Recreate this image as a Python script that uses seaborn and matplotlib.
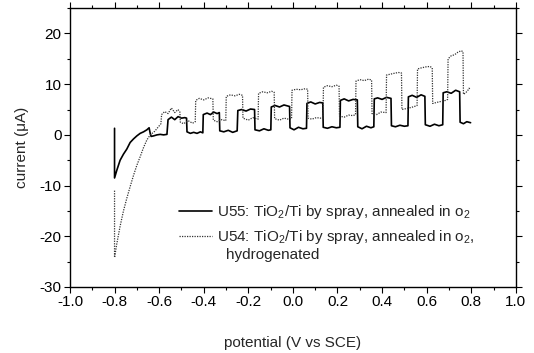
import matplotlib
matplotlib.use("Agg")
import matplotlib.pyplot as plt
import seaborn as sns
import pandas as pd
from matplotlib.ticker import MultipleLocator, FormatStrFormatter

# U55: TiO2/Ti by spray, annealed in O2 (solid)
u55_x = [-0.800, -0.800, -0.790, -0.775, -0.760, -0.745, -0.730, -0.715, -0.700, -0.685, -0.670, -0.655, -0.645,
         -0.640, -0.636, -0.625, -0.610, -0.595, -0.580, -0.565,
         -0.560, -0.545, -0.530, -0.515, -0.500, -0.485, -0.477,
         -0.475, -0.460, -0.445, -0.430, -0.415, -0.404,
         -0.402, -0.385, -0.370, -0.355, -0.340, -0.330,
         -0.328, -0.310, -0.290, -0.270, -0.250,
         -0.247, -0.230, -0.210, -0.190, -0.172,
         -0.170, -0.150, -0.130, -0.110, -0.099,
         -0.097, -0.080, -0.060, -0.040, -0.015,
         -0.013, 0.005, 0.025, 0.045, 0.061,
         0.063, 0.080, 0.100, 0.120, 0.134,
         0.136, 0.155, 0.175, 0.195, 0.211,
         0.213, 0.230, 0.250, 0.270, 0.289,
         0.291, 0.310, 0.330, 0.350, 0.363,
         0.365, 0.380, 0.400, 0.420, 0.440,
         0.442, 0.460, 0.480, 0.500, 0.516,
         0.518, 0.535, 0.555, 0.575, 0.592,
         0.594, 0.615, 0.635, 0.655, 0.672,
         0.674, 0.690, 0.710, 0.730, 0.748,
         0.750, 0.765, 0.780, 0.797]
u55_y = [1.3, -8.5, -7.0, -5.0, -3.8, -2.8, -1.5, -0.8, -0.2, 0.3, 0.6, 1.0, 1.4,
         0.3, -0.3, -0.2, 0.0, 0.1, 0.0, 0.1,
         3.0, 3.5, 3.0, 3.6, 3.3, 3.4, 3.3,
         0.6, 0.3, 0.5, 0.3, 0.6, 0.4,
         4.0, 4.3, 4.0, 4.5, 4.2, 4.4,
         0.8, 0.6, 0.9, 0.5, 0.8,
         4.8, 5.0, 4.7, 5.1, 5.0,
         1.0, 0.8, 1.2, 0.9, 1.0,
         5.5, 5.8, 5.5, 5.9, 5.6,
         1.4, 1.0, 1.5, 1.2, 1.3,
         6.2, 6.5, 6.1, 6.4, 6.3,
         1.5, 1.3, 1.6, 1.4, 1.5,
         6.8, 7.1, 6.7, 7.0, 6.9,
         1.6, 1.2, 1.7, 1.4, 1.6,
         7.1, 7.3, 7.0, 7.4, 7.2,
         1.8, 1.6, 1.9, 1.7, 1.8,
         7.5, 7.8, 7.4, 7.9, 7.6,
         2.0, 1.7, 2.1, 1.8, 2.0,
         8.3, 8.5, 8.2, 8.8, 8.5,
         2.5, 2.2, 2.6, 2.4]

# U54: TiO2/Ti by spray, annealed in O2, hydrogenated (dotted)
u54_x = [-0.800, -0.800, -0.790, -0.775, -0.760, -0.745, -0.730, -0.715, -0.700, -0.685, -0.670, -0.655, -0.640,
         -0.620, -0.605, -0.592,
         -0.589, -0.575, -0.560, -0.545, -0.530, -0.515, -0.507,
         -0.505, -0.490, -0.470, -0.450, -0.438,
         -0.436, -0.420, -0.400, -0.380, -0.359,
         -0.357, -0.340, -0.320, -0.301,
         -0.299, -0.280, -0.260, -0.240, -0.226,
         -0.224, -0.200, -0.180, -0.156,
         -0.154, -0.135, -0.115, -0.095, -0.084,
         -0.082, -0.060, -0.040, -0.020, -0.006,
         -0.004, 0.015, 0.035, 0.055, 0.066,
         0.068, 0.085, 0.105, 0.125, 0.135,
         0.137, 0.155, 0.175, 0.195, 0.207,
         0.209, 0.230, 0.250, 0.270, 0.281,
         0.283, 0.300, 0.320, 0.340, 0.353,
         0.355, 0.375, 0.395, 0.418,
         0.420, 0.440, 0.460, 0.475, 0.487,
         0.489, 0.510, 0.530, 0.545, 0.557,
         0.559, 0.575, 0.595, 0.615, 0.625,
         0.627, 0.645, 0.665, 0.685, 0.694,
         0.696, 0.710, 0.725, 0.740, 0.755, 0.763,
         0.765, 0.775, 0.785, 0.790, 0.797]
u54_y = [-11.0, -24.2, -21.5, -18.0, -15.0, -12.5, -10.2, -8.0, -6.0, -4.3, -2.5, -1.0, 0.0,
         0.7, 1.5, 2.2,
         4.0, 4.6, 4.2, 5.3, 4.4, 5.0, 4.5,
         2.5, 2.2, 2.8, 2.3, 2.6,
         6.8, 7.2, 6.9, 7.3, 7.1,
         2.9, 2.6, 3.0, 2.8,
         7.6, 7.9, 7.7, 8.0, 7.8,
         3.3, 2.9, 3.4, 3.1,
         8.2, 8.5, 8.3, 8.6, 8.4,
         3.2, 2.9, 3.3, 3.1, 3.2,
         8.8, 9.0, 8.9, 9.1, 9.0,
         3.3, 3.1, 3.4, 3.3, 3.3,
         9.4, 9.7, 9.5, 9.8, 9.6,
         3.7, 3.5, 3.9, 3.8, 4.0,
         10.6, 10.9, 10.7, 11.0, 10.8,
         4.2, 4.0, 4.5, 4.4,
         11.8, 12.0, 12.2, 12.3, 12.2,
         5.0, 5.2, 5.4, 5.6, 5.8,
         13.0, 13.2, 13.4, 13.5, 13.2,
         6.2, 6.4, 6.6, 6.8, 7.0,
         15.0, 15.6, 15.8, 16.3, 16.6, 16.4,
         8.0, 8.3, 8.8, 9.2, 9.0]

label_u55 = "U55: TiO$_2$/Ti by spray, annealed in o$_2$"
label_u54 = "U54: TiO$_2$/Ti by spray, annealed in o$_2$,"
label_u54_cont = "hydrogenated"

sns.set_theme(style="ticks")
plt.rcParams["font.family"] = ["Liberation Sans", "DejaVu Sans"]
plt.rcParams["mathtext.fontset"] = "custom"
plt.rcParams["mathtext.rm"] = "Liberation Sans"
plt.rcParams["mathtext.it"] = "Liberation Sans"
plt.rcParams["axes.unicode_minus"] = False

FS = 11

fig = plt.figure(figsize=(5.34, 3.53), dpi=100)
ax = fig.add_axes([0.131, 0.187, 0.835, 0.790])

df55 = pd.DataFrame({"x": u55_x, "y": u55_y})
df54 = pd.DataFrame({"x": u54_x, "y": u54_y})
sns.lineplot(data=df55, x="x", y="y", sort=False, estimator=None, ax=ax,
             color="black", linewidth=1.2, label=label_u55)
sns.lineplot(data=df54, x="x", y="y", sort=False, estimator=None, ax=ax,
             color="#333333", linewidth=0.9, linestyle=(0, (1, 1)), label=label_u54)

ax.set_xlim(-1.0, 1.0)
ax.set_ylim(-30, 25)
ax.xaxis.set_major_locator(MultipleLocator(0.2))
ax.xaxis.set_minor_locator(MultipleLocator(0.1))
ax.yaxis.set_major_locator(MultipleLocator(10))
ax.yaxis.set_minor_locator(MultipleLocator(5))
ax.xaxis.set_major_formatter(FormatStrFormatter("%.1f"))
ax.yaxis.set_major_formatter(FormatStrFormatter("%d"))
ax.tick_params(which="both", direction="out", top=True, right=True,
               labeltop=False, labelright=False, colors="black", labelsize=FS, width=0.8)
ax.tick_params(which="major", length=4, pad=2)
ax.tick_params(which="minor", length=2.2)
for s in ax.spines.values():
    s.set_visible(True)
    s.set_color("black")
    s.set_linewidth(1.0)

ax.set_xlabel("potential (V vs SCE)", fontsize=FS, labelpad=19)
ax.set_ylabel("current (\u03bcA)", fontsize=FS, labelpad=8)

leg = ax.legend(loc="upper left", bbox_to_anchor=(0.244, 0.30), frameon=False,
                fontsize=FS, handlelength=2.2, handletextpad=0.3,
                borderpad=0, borderaxespad=0, labelspacing=0.45)
ax.text(0.351, 0.116, label_u54_cont, transform=ax.transAxes, fontsize=FS,
        ha="left", va="center")

fig.savefig("out.png", dpi=100)
